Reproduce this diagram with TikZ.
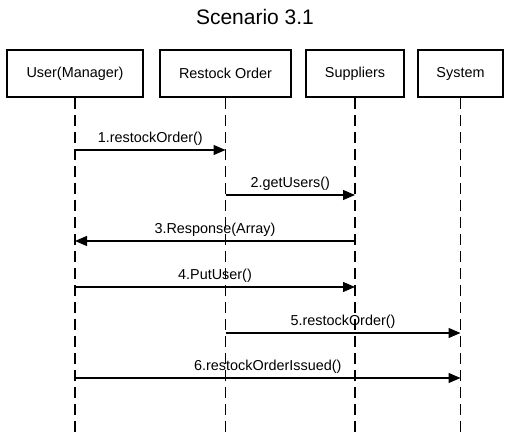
\documentclass[tikz,border=0pt]{standalone}
\usepackage{fontspec}
\setmainfont{Liberation Sans}
\usetikzlibrary{arrows.meta}
\begin{document}
\begin{tikzpicture}[x=1pt,y=-1pt,
  actor/.style={draw, line width=1.6pt, minimum height=47pt, inner sep=0pt, font=\fontsize{14.4}{16}\selectfont},
  lifeline/.style={line width=1.5pt, dash pattern=on 11pt off 6pt},
  msg/.style={line width=1.1pt, -{Triangle[length=12pt,width=10pt]}},
  lbl/.style={font=\fontsize{14.4}{16}\selectfont, anchor=base, inner sep=0pt}]
\useasboundingbox (0,0) rectangle (512,435);
\node[font=\fontsize{21}{24}\selectfont, anchor=base, inner sep=0pt] (title) at (255,25) {Scenario 3.1};
\node[actor, minimum width=136pt] (u) at (75,73.5) {User(Manager)};
\node[actor, minimum width=131pt] (r) at (225.5,73.5) {Restock Order};
\node[actor, minimum width=98pt] (s) at (355,73.5) {Suppliers};
\node[actor, minimum width=85pt] (y) at (460.5,73.5) {System};
\coordinate (ue) at (75,433);
\coordinate (re) at (225.5,433);
\coordinate (se) at (355,433);
\coordinate (ye) at (460.5,433);
\draw[lifeline] (u.south) -- (ue);
\draw[lifeline] (r.south) -- (re);
\draw[lifeline] (s.south) -- (se);
\draw[lifeline] (y.south) -- (ye);
% message points
\coordinate (u1) at (75,150);   \coordinate (r1) at (225.5,150);
\coordinate (r2) at (225.5,195); \coordinate (s2) at (355,195);
\coordinate (s3) at (355,241);  \coordinate (u3) at (75,241);
\coordinate (u4) at (75,287);   \coordinate (s4) at (355,287);
\coordinate (r5) at (225.5,333); \coordinate (y5) at (460.5,333);
\coordinate (u6) at (75,378);   \coordinate (y6) at (460.5,378);
\draw[msg] (u1) -- (r1) node[lbl, pos=0.5, yshift=7pt] (m1) {1.restockOrder()};
\draw[msg] (r2) -- (s2) node[lbl, pos=0.5, yshift=7pt] (m2) {2.getUsers()};
\draw[msg] (s3) -- (u3) node[lbl, pos=0.5, yshift=7pt] (m3) {3.Response(Array)};
\draw[msg] (u4) -- (s4) node[lbl, pos=0.5, yshift=7pt] (m4) {4.PutUser()};
\draw[msg] (r5) -- (y5) node[lbl, pos=0.5, yshift=7pt] (m5) {5.restockOrder()};
\draw[msg] (u6) -- (y6) node[lbl, pos=0.5, yshift=7pt] (m6) {6.restockOrderIssued()};
\end{tikzpicture}
\end{document}
